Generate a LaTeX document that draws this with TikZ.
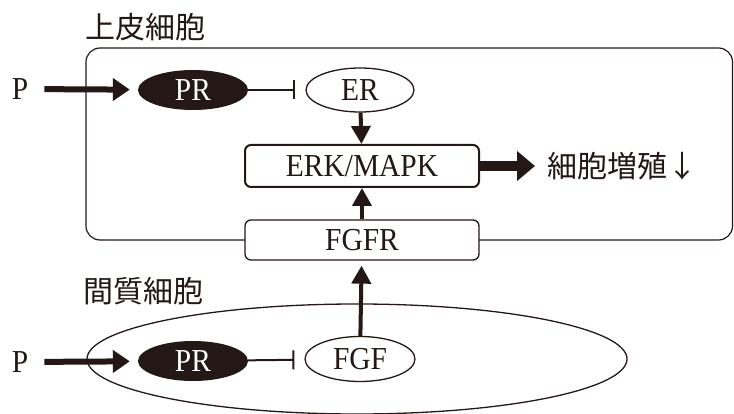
\documentclass[tikz,border=0pt]{standalone}
\usepackage{fontspec}
\setmainfont[FakeStretch=0.92]{Liberation Serif}
\newfontfamily\jpfont{Noto Sans CJK JP}
\usetikzlibrary{arrows.meta,shapes.geometric}
\definecolor{ink}{HTML}{231815}

\begin{document}
\begin{tikzpicture}[
    x=1pt, y=-1pt,
    font=\fontsize{32}{38}\selectfont,
    every node/.style={text=ink},
    lbl/.style={inner sep=2pt},
    jp/.style={font=\fontsize{30}{36}\selectfont\jpfont, inner sep=2pt},
    prnode/.style={ellipse, fill=ink, text=white, minimum width=110pt, minimum height=40pt, inner sep=0pt},
    oval/.style={ellipse, draw=ink, line width=1.3pt, fill=white, minimum width=110pt, minimum height=45pt, inner sep=0pt},
    kbox/.style={draw=ink, rounded corners=6pt, fill=white, minimum width=234pt, inner sep=0pt},
    cell/.style={draw=ink, line width=1.2pt},
    feed/.style={-{Triangle[length=17pt, width=22pt]}, draw=ink, fill=ink, line width=6pt},
    pass/.style={-{Triangle[length=18pt, width=19pt]}, draw=ink, fill=ink, line width=4pt},
    big/.style={-{Triangle[length=18pt, width=29pt]}, draw=ink, fill=ink, line width=10pt},
    inhib/.style={-{Bar[width=19pt, line width=2pt]}, draw=ink, line width=2pt}
]
    \useasboundingbox (0,0) rectangle (734,414);

    % --- 上皮細胞 ---
    \node[jp] (epiT) at (145,27) {上皮細胞};
    \draw[cell, rounded corners=14pt] (86,48) rectangle (732.5,240);

    \node[lbl] (P1) at (20,89) {P};
    \node[prnode] (PR1) at (193,90) {PR};
    \node[oval, minimum width=108pt, minimum height=44pt] (ER) at (360,90) {ER};
    \node[kbox, line width=2pt, minimum height=42pt] (ERK) at (362,166) {ERK/MAPK};
    \node[jp, anchor=west] (prolif) at (545,166) {細胞増殖↓};
    \node[kbox, line width=1.3pt, minimum height=40pt] (FGFR) at (362,240) {FGFR};

    % --- 間質細胞 ---
    \node[jp] (strT) at (143,291) {間質細胞};
    \draw[cell, line width=1.3pt] (357,359) ellipse[x radius=270, y radius=55];

    \node[lbl] (P2) at (20,362) {P};
    \node[prnode] (PR2) at (193,361) {PR};
    \node[oval] (FGF) at (360,359) {FGF};

    % --- 矢印 ---
    \draw[feed, shorten <=14pt, shorten >=8pt] (P1) -- (PR1);
    \draw[inhib, shorten >=10pt] (PR1) -- (ER);
    \draw[pass] (ER) -- (ERK);
    \draw[pass] (FGFR) -- (ERK);
    \draw[big, shorten >=10pt] (ERK) -- (prolif);

    \draw[feed, shorten <=14pt, shorten >=8pt] (P2) -- (PR2);
    \draw[inhib, shorten >=10pt] (PR2) -- (FGF);
    \draw[pass, shorten >=5pt] (FGF) -- (FGFR);

\end{tikzpicture}
\end{document}
